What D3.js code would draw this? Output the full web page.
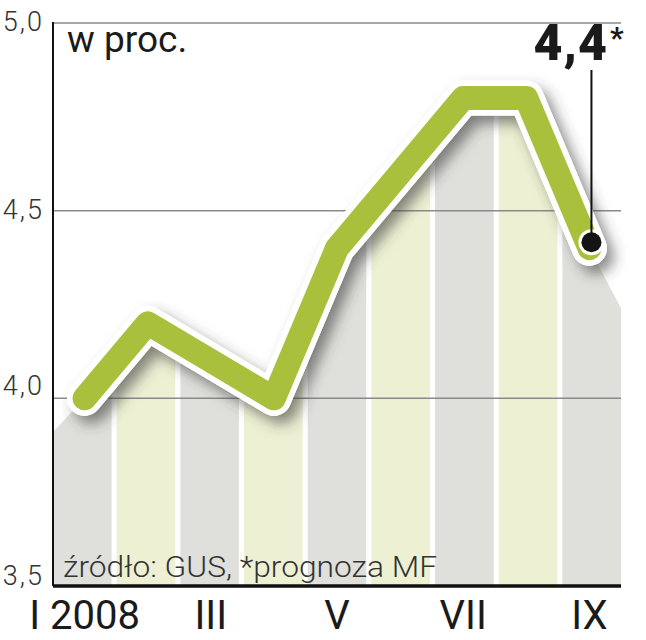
<!DOCTYPE html>
<html><head><meta charset="utf-8">
<script src="https://cdn.jsdelivr.net/npm/d3@7"></script>
<style>html,body{margin:0;padding:0;background:#fff;}</style>
</head><body>
<svg id="c" width="646" height="640"></svg>
<script>
const months = ["I","II","III","IV","V","VI","VII","VIII","IX"];
const values = [4.0, 4.2, 4.1, 4.0, 4.4, 4.6, 4.8, 4.8, 4.4];
const areaEdgeValues = [3.91, 4.24]; // shaded area value at left and right plot edges
const yTicks = [3.5, 4.0, 4.5, 5.0];
const yTickLabels = ["3,5", "4,0", "4,5", "5,0"];
const xLabelMonths = ["I","III","V","VII","IX"];
const xTickLabels = ["I 2008","III","V","VII","IX"];
const unitLabel = "w proc.";
const sourceLabel = "źródło: GUS, *prognoza MF";
const lastValueLabel = "4,4";

const svg = d3.select("#c");
const L = 53, R = 621, T = 23, B = 586;
const y = d3.scaleLinear().domain([3.5, 5.0]).range([B, T]);
const xb = d3.scaleBand().domain(months).range([L, R]).paddingInner(0.08).paddingOuter(0);
const xp = d3.scalePoint().domain(months).range([L, R]).padding(0.5);

const defs = svg.append("defs");
const areaPts = [[L, areaEdgeValues[0]]].concat(months.map((m,i)=>[xp(m), values[i]])).concat([[R, areaEdgeValues[1]]]);
const areaGen = d3.area().x(d=>d[0]).y0(B).y1(d=>y(d[1]));
defs.append("clipPath").attr("id","ac").append("path").attr("d", areaGen(areaPts));
const f = defs.append("filter").attr("id","sh").attr("x","-20%").attr("y","-20%").attr("width","140%").attr("height","140%");
f.append("feDropShadow").attr("dx",7).attr("dy",8).attr("stdDeviation",7)
  .attr("flood-color","#3a3a3a").attr("flood-opacity",0.6);

// stripes
svg.append("g").attr("clip-path","url(#ac)").selectAll("rect").data(months).join("rect")
  .attr("x", d=>xb(d)).attr("y", T).attr("width", xb.bandwidth()).attr("height", B - T)
  .attr("fill", (d,i)=> i%2===0 ? "#dfe0db" : "#eef0d3");

// gridlines
svg.append("g").selectAll("line").data(yTicks.filter(t=>t>3.5)).join("line")
  .attr("x1", L).attr("x2", R).attr("y1", d=>y(d)).attr("y2", d=>y(d))
  .attr("stroke","#8a8a8a").attr("stroke-width",1.5);

// axes lines
svg.append("line").attr("x1",L).attr("x2",L).attr("y1",T-1).attr("y2",B).attr("stroke","#111").attr("stroke-width",2);
svg.append("line").attr("x1",L).attr("x2",R).attr("y1",B).attr("y2",B).attr("stroke","#111").attr("stroke-width",3.5);

// y tick labels
svg.append("g").selectAll("text").data(yTicks).join("text")
  .attr("x", 44).attr("y", (d)=> y(d) + (d===4.0 ? -3 : d===3.5 ? -1 : 8))
  .attr("text-anchor","end").attr("font-family","Roboto").attr("font-weight",300)
  .attr("font-size",27).attr("letter-spacing",2).attr("fill","#333")
  .text((d,i)=>yTickLabels[i]);

// x tick labels
svg.append("g").selectAll("text").data(xLabelMonths).join("text")
  .attr("x", d=>xp(d)).attr("y", 629).attr("text-anchor","middle")
  .attr("font-family","Roboto").attr("font-weight",400).attr("font-size",40).attr("fill","#1a1a1a")
  .text((d,i)=>xTickLabels[i]);

// line
const lineGen = d3.line().x((d,i)=>xp(months[i])).y(d=>y(d));
svg.append("path").attr("d", lineGen(values)).attr("fill","none").attr("stroke","#fff")
  .attr("stroke-width",35).attr("stroke-linecap","round").attr("stroke-linejoin","round").attr("filter","url(#sh)");
svg.append("path").attr("d", lineGen(values)).attr("fill","none").attr("stroke","#fff")
  .attr("stroke-width",35).attr("stroke-linecap","round").attr("stroke-linejoin","round");
svg.append("path").attr("d", lineGen(values)).attr("fill","none").attr("stroke","#a9c03c")
  .attr("stroke-width",24).attr("stroke-linecap","round").attr("stroke-linejoin","round");

// last point marker
const lx = xp(months[months.length-1]), ly = y(values[values.length-1]);
svg.append("circle").attr("cx",lx+2).attr("cy",ly-6).attr("r",13).attr("fill","#fff");
svg.append("line").attr("x1",lx+2).attr("x2",lx+2).attr("y1",70).attr("y2",ly-6).attr("stroke","#111").attr("stroke-width",2);
svg.append("circle").attr("cx",lx+2).attr("cy",ly-6).attr("r",10).attr("fill","#141414");

// value label
svg.append("text").attr("x", 608).attr("y", 60).attr("text-anchor","end")
  .attr("font-family","Roboto").attr("font-weight",900).attr("font-size",50).attr("letter-spacing",1).attr("fill","#1a1a1a")
  .text(lastValueLabel);
svg.append("text").attr("x", 610).attr("y", 48).attr("font-family","Roboto").attr("font-weight",700)
  .attr("font-size",30).attr("fill","#1a1a1a").text("*");

// unit & source
svg.append("text").attr("x",67).attr("y",52).attr("font-family","Roboto").attr("font-weight",400)
  .attr("font-size",37).attr("fill","#1a1a1a").text(unitLabel);
svg.append("text").attr("x",63).attr("y",577).attr("font-family","Roboto").attr("font-weight",300)
  .attr("font-size",30).attr("fill","#333").attr("textLength",374).attr("lengthAdjust","spacingAndGlyphs").text(sourceLabel);
</script>
</body></html>
